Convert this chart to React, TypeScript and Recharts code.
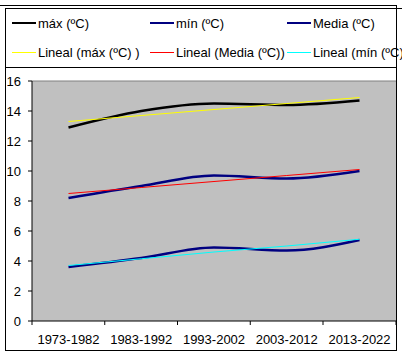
import React from "react";
import { CartesianGrid, Line, LineChart, ReferenceLine, XAxis, YAxis } from "recharts";

const periods = ["1973-1982", "1983-1992", "1993-2002", "2003-2012", "2013-2022"];
const maxTemp = [12.9, 14.0, 14.5, 14.4, 14.7];
const minTemp = [3.6, 4.2, 4.9, 4.7, 5.4];
const meanTemp = [8.2, 9.0, 9.7, 9.5, 10.0];
// trend lines
const maxTrend = [13.3, 13.7, 14.1, 14.5, 14.9];
const meanTrend = [8.5, 8.9, 9.3, 9.7, 10.1];
const minTrend = [3.7, 4.15, 4.6, 5.0, 5.45];
const yTicks = [0, 2, 4, 6, 8, 10, 12, 14, 16];

const data = periods.map((period, i) => ({
  period,
  max: maxTemp[i],
  min: minTemp[i],
  mean: meanTemp[i],
  maxTrend: maxTrend[i],
  meanTrend: meanTrend[i],
  minTrend: minTrend[i],
}));

const font = '"Liberation Sans", Arial, sans-serif';
const HALF_BAND = 36.5;

const legendItems = [
  { label: "máx (ºC)", color: "#000000", width: 2.5, x: 12, y: 23 },
  { label: "mín (ºC)", color: "#000080", width: 2.5, x: 150, y: 23 },
  { label: "Media (ºC)", color: "#000080", width: 2.5, x: 287, y: 23 },
  { label: "Lineal (máx (ºC) )", color: "#FFFF00", width: 1, x: 12, y: 52 },
  { label: "Lineal (Media (ºC))", color: "#FF0000", width: 1, x: 150, y: 52 },
  { label: "Lineal (mín (ºC)", color: "#00FFFF", width: 1, x: 287, y: 52 },
];

function CategoryTick(props: any) {
  const { x, y, payload } = props;
  const last = payload?.index === periods.length - 1;
  return (
    <g>
      <line x1={x - HALF_BAND} x2={x - HALF_BAND} y1={y} y2={y + 4} stroke="#000" />
      {last && <line x1={x + HALF_BAND} x2={x + HALF_BAND} y1={y} y2={y + 4} stroke="#000" />}
      <text x={x} y={y + 23} textAnchor="middle" fontSize={13} fontFamily={font} fill="#000">
        {payload.value}
      </text>
    </g>
  );
}

function Box({ l, t, w, h }: { l: number; t: number; w: number; h: number }) {
  return <div style={{ position: "absolute", left: l, top: t, width: w, height: h, background: "#000" }} />;
}

export default function App() {
  return (
    <div style={{ position: "absolute", left: 0, top: 0, width: 402, height: 356, background: "#fff", overflow: "hidden" }}>
      <LineChart width={402} height={356} data={data} margin={{ top: 81, right: 6, bottom: 5, left: 0 }}>
        <CartesianGrid fill="#C0C0C0" stroke="none" horizontal={false} vertical={false} />
        <ReferenceLine y={16} stroke="#808080" strokeWidth={1} />
        <XAxis
          dataKey="period"
          height={30}
          axisLine={{ stroke: "#000" }}
          tickLine={false}
          tickSize={0}
          tickMargin={0}
          tick={<CategoryTick />}
          interval={0}
          padding={{ left: HALF_BAND, right: HALF_BAND }}
        />
        <YAxis
          width={32}
          domain={[0, 16]}
          ticks={yTicks}
          interval={0}
          axisLine={{ stroke: "#000" }}
          tickLine={{ stroke: "#000" }}
          tickSize={4}
          tickMargin={7}
          tick={{ fill: "#000", fontSize: 13, fontFamily: font }}
        />
        <Line type="monotone" dataKey="max" stroke="#000000" strokeWidth={2.5} dot={false} isAnimationActive={false} />
        <Line type="monotone" dataKey="min" stroke="#000080" strokeWidth={2.5} dot={false} isAnimationActive={false} />
        <Line type="monotone" dataKey="mean" stroke="#000080" strokeWidth={2.5} dot={false} isAnimationActive={false} />
        <Line type="linear" dataKey="maxTrend" stroke="#FFFF00" strokeWidth={1} dot={false} isAnimationActive={false} />
        <Line type="linear" dataKey="meanTrend" stroke="#FF0000" strokeWidth={1} dot={false} isAnimationActive={false} />
        <Line type="linear" dataKey="minTrend" stroke="#00FFFF" strokeWidth={1} dot={false} isAnimationActive={false} />
      </LineChart>

      {legendItems.map((it) => (
        <div key={it.label} style={{ position: "absolute", left: it.x, top: it.y - 9, height: 18, display: "flex", alignItems: "center", whiteSpace: "nowrap" }}>
          <div style={{ width: 24, height: it.width, background: it.color, marginRight: 2 }} />
          <span style={{ fontFamily: font, fontSize: 13, color: "#000" }}>{it.label}</span>
        </div>
      ))}

      {/* frame lines */}
      <Box l={0} t={5} w={397} h={1} />
      <Box l={5} t={8} w={397} h={1} />
      <Box l={5} t={8} w={1} h={343} />
      <Box l={396} t={5} w={1} h={346} />
      <Box l={5} t={67} w={392} h={1} />
      <Box l={5} t={350} w={392} h={1} />
    </div>
  );
}
